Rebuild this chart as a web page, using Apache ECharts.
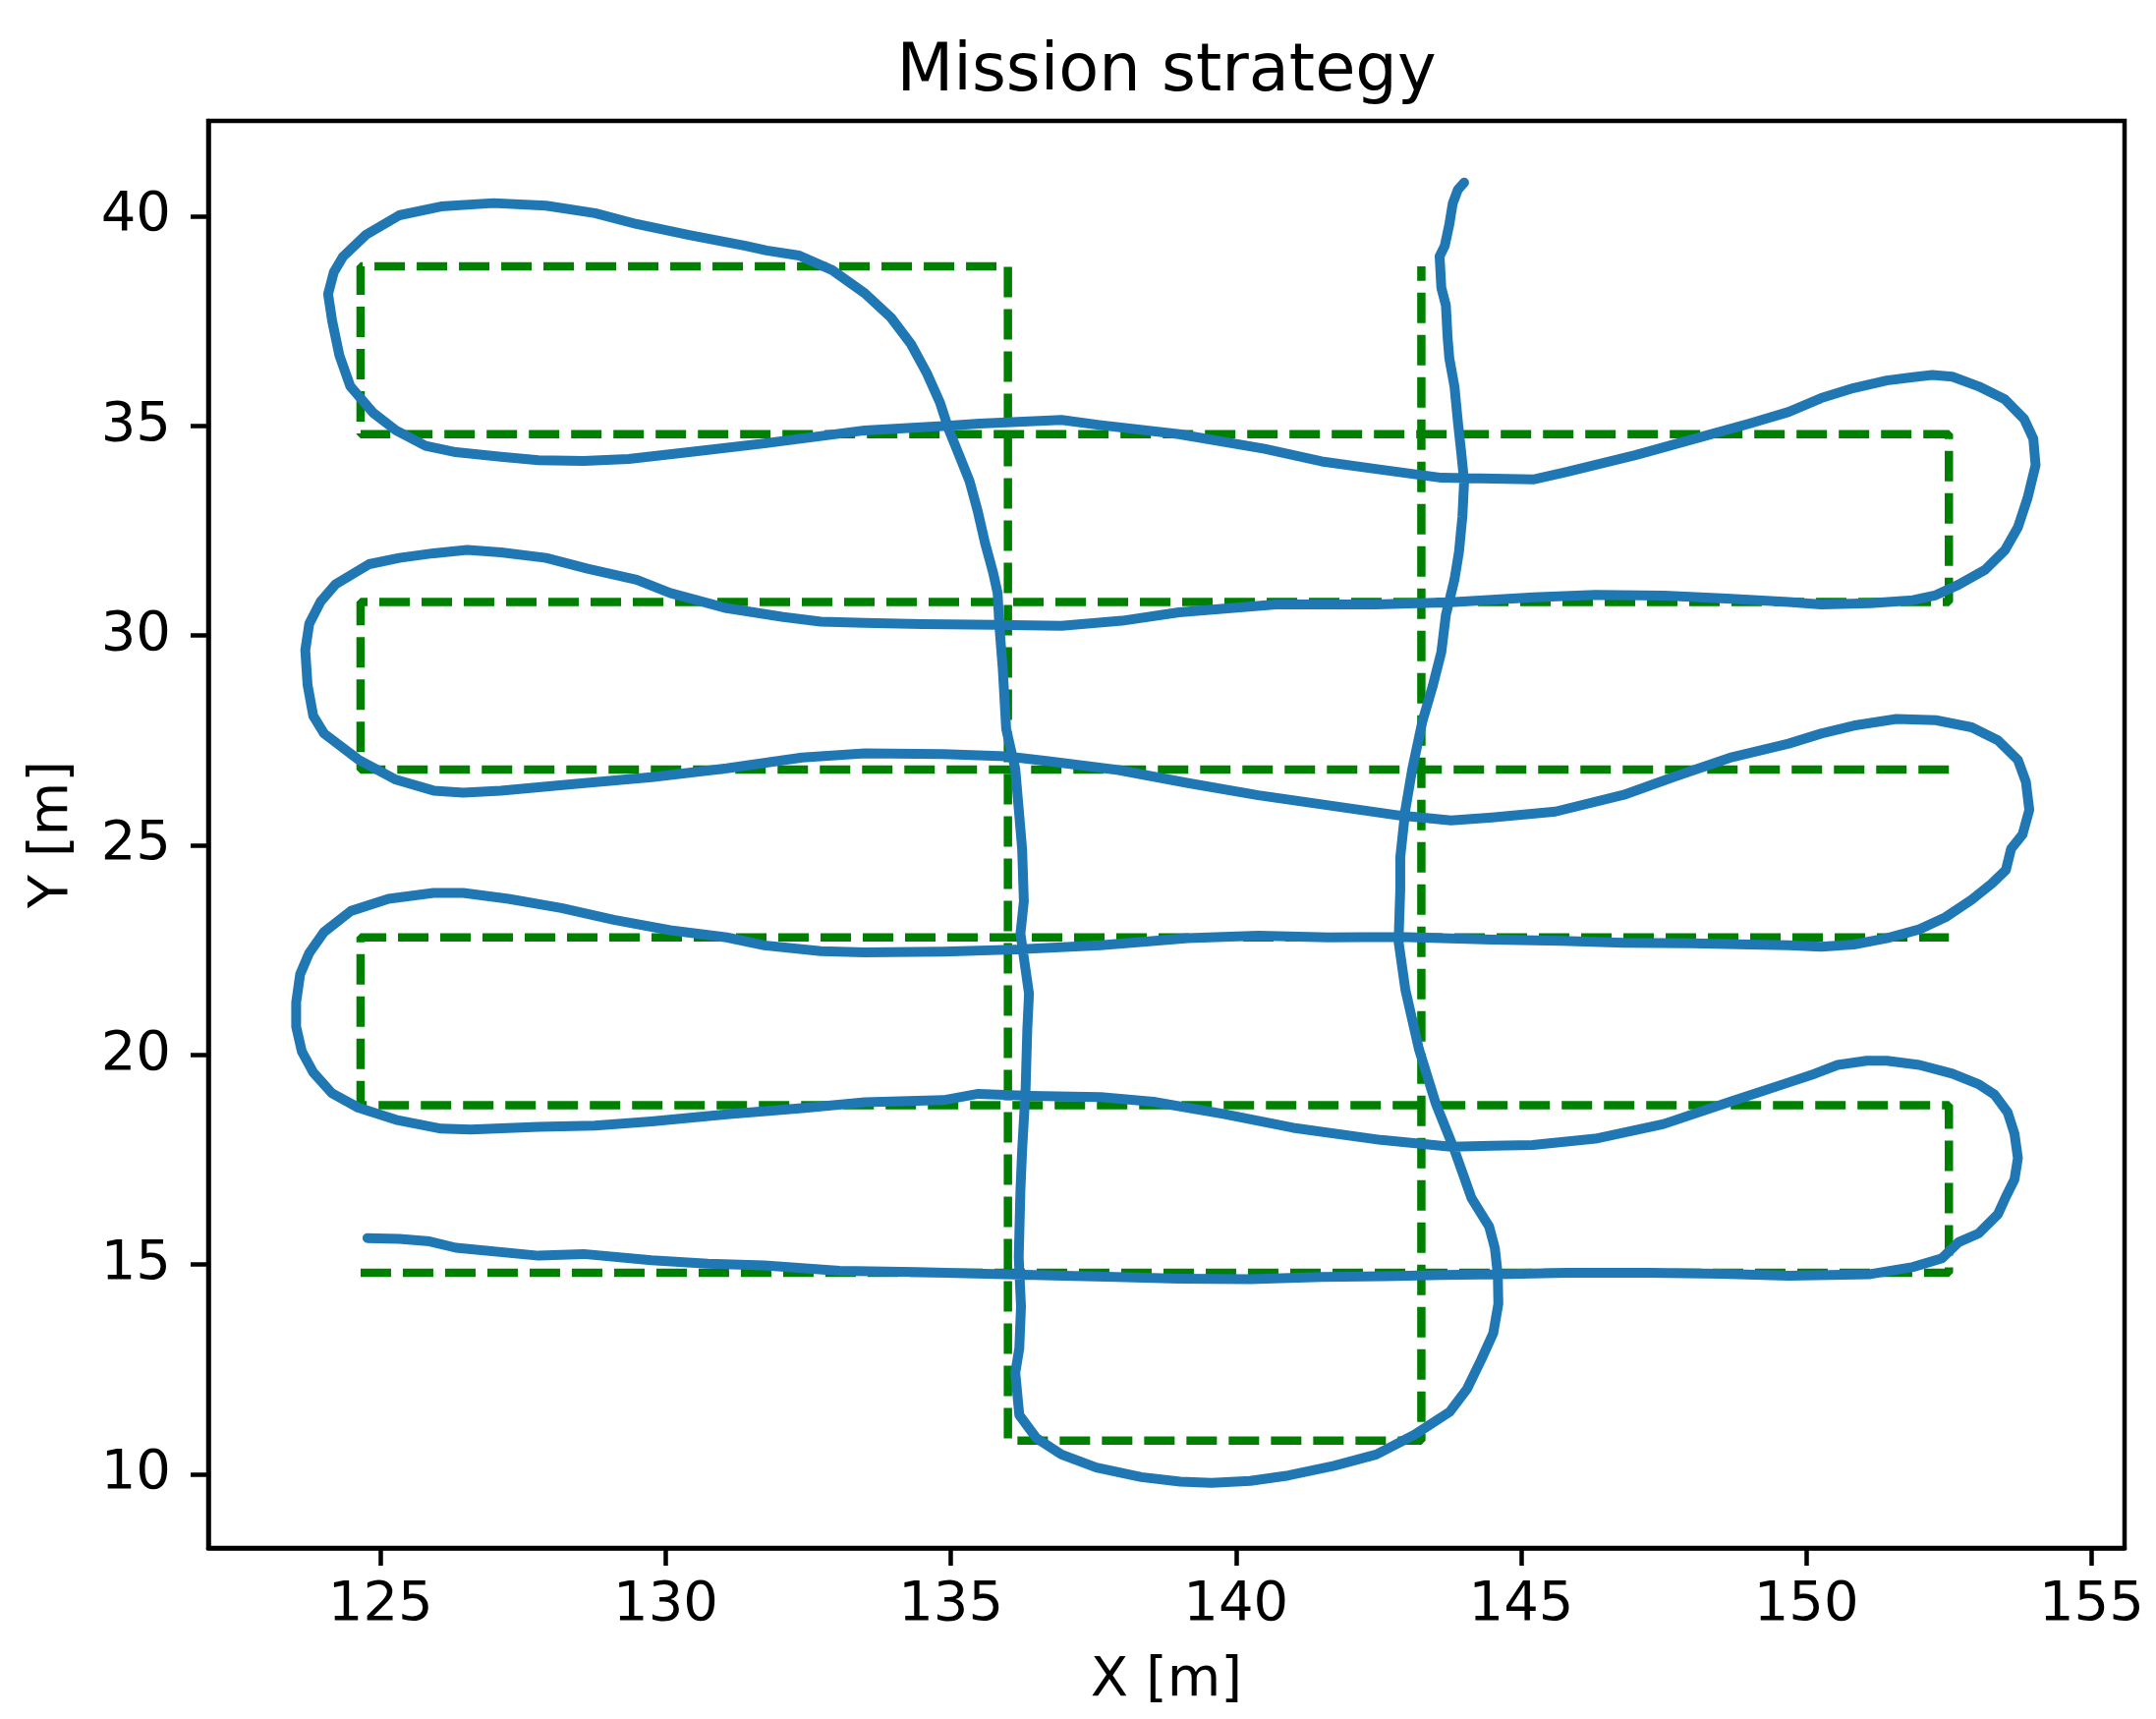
<!DOCTYPE html>
<html>
<head>
<meta charset="utf-8">
<title>Mission strategy</title>
<script src="https://cdn.jsdelivr.net/npm/echarts@6/dist/echarts.min.js"></script>
<style>
  html, body { margin: 0; padding: 0; background: #fff; }
  #main { width: 2194px; height: 1749px; }
</style>
</head>
<body>
<div id="main"></div>
<script>
// axis ticks
const xTicks = [125, 130, 135, 140, 145, 150, 155]
const yTicks = [10, 15, 20, 25, 30, 35, 40]

// planned path (green dashed), there is a gap on the right between 22.8 and 26.8
const planPart1 = [[124.65, 14.8], [152.5, 14.8], [152.5, 18.8], [124.65, 18.8], [124.65, 22.8], [152.5, 22.8]]
const planPart2 = [[152.5, 26.8], [124.65, 26.8], [124.65, 30.8], [152.5, 30.8], [152.5, 34.8], [124.65, 34.8],
  [124.65, 38.8], [136.0, 38.8], [136.0, 10.8], [143.25, 10.8], [143.25, 38.8]]

// flown track (blue), one array per leg
const legBottom = [[124.77, 15.63], [125.33, 15.61], [125.86, 15.55], [126.32, 15.4], [127.77, 15.21], [128.56, 15.25],
  [129.75, 15.1], [130.74, 15.02], [131.73, 14.98], [133.05, 14.85], [134.4, 14.82], [135.6, 14.78], [136.8, 14.74],
  [137.9, 14.7], [139.0, 14.66], [140.25, 14.65], [141.5, 14.7], [142.6, 14.72], [143.6, 14.75], [144.6, 14.77],
  [145.8, 14.8], [147.25, 14.8], [148.5, 14.78], [149.69, 14.73], [151.12, 14.77], [151.87, 14.94], [152.38, 15.15],
  [152.67, 15.53], [153.02, 15.74], [153.36, 16.2], [153.5, 16.62], [153.65, 17.03], [153.71, 17.54], [153.65, 18.12],
  [153.53, 18.63], [153.3, 19.05], [153.02, 19.3], [152.56, 19.55], [151.98, 19.76], [151.41, 19.86], [151.06, 19.86],
  [150.55, 19.76], [150.15, 19.55], [149.69, 19.34]]
const leg18 = [[148.7, 18.9], [147.5, 18.35], [146.3, 18.0], [145.2, 17.85], [144.49, 17.83], [143.77, 17.81],
  [142.54, 17.97], [141.0, 18.26], [139.78, 18.59], [138.55, 18.88], [137.63, 18.99], [136.4, 19.02], [135.48, 19.07],
  [134.87, 18.92], [133.49, 18.87], [132.39, 18.73], [131.07, 18.58], [129.75, 18.41], [128.76, 18.31], [127.77, 18.28],
  [126.58, 18.22], [126.06, 18.24], [125.27, 18.45], [124.61, 18.74], [124.15, 19.08], [123.82, 19.58], [123.62, 20.08],
  [123.52, 20.67], [123.52, 21.25], [123.59, 21.92], [123.75, 22.43], [124.01, 22.93], [124.48, 23.43], [125.14, 23.72],
  [125.93, 23.86], [126.45, 23.86], [127.24, 23.72], [128.17, 23.5], [129.09, 23.22], [130.08, 22.97], [131.07, 22.8],
  [131.73, 22.61], [132.72, 22.47], [133.49, 22.44]]
const leg22 = [[134.87, 22.46], [136.1, 22.51], [137.63, 22.61], [139.16, 22.78], [140.39, 22.84], [141.62, 22.8],
  [142.85, 22.81], [144.49, 22.75], [145.7, 22.72], [146.8, 22.67], [148.0, 22.66], [149.0, 22.63], [149.69, 22.61],
  [150.26, 22.58], [150.83, 22.63], [151.41, 22.78], [151.98, 22.99], [152.44, 23.28], [152.9, 23.7], [153.25, 24.08],
  [153.5, 24.41], [153.59, 24.91], [153.79, 25.25], [153.91, 25.84], [153.85, 26.51], [153.71, 27.03], [153.36, 27.5],
  [152.9, 27.81], [152.27, 27.98], [151.58, 28.01], [150.83, 27.85], [150.26, 27.66], [149.69, 27.42]]
const leg26 = [[148.7, 27.1], [147.7, 26.64], [146.8, 26.2], [145.6, 25.8], [144.49, 25.66], [143.77, 25.59],
  [142.85, 25.71], [141.62, 25.95], [140.39, 26.19], [139.16, 26.48], [137.94, 26.79], [136.71, 27.0], [135.97, 27.12],
  [134.87, 27.17], [133.49, 27.19], [132.39, 27.09], [131.07, 26.83], [129.75, 26.62], [128.43, 26.46], [127.11, 26.3],
  [126.45, 26.25], [125.93, 26.3], [125.27, 26.56], [124.61, 27.04], [124.01, 27.66], [123.82, 28.08], [123.72, 28.82],
  [123.68, 29.65], [123.75, 30.28], [123.95, 30.81], [124.21, 31.22], [124.8, 31.7], [125.33, 31.85], [125.93, 31.96],
  [126.52, 32.04], [127.11, 31.98], [127.9, 31.85], [128.63, 31.59], [129.49, 31.33], [130.08, 31.01], [131.07, 30.65],
  [132.06, 30.44], [132.72, 30.33], [133.49, 30.3]]
const leg30 = [[134.5, 30.27], [135.79, 30.25], [136.94, 30.23], [138.0, 30.35], [139.0, 30.55], [140.7, 30.74],
  [142.45, 30.74], [143.77, 30.79], [145.21, 30.91], [146.3, 30.97], [147.5, 30.95], [148.6, 30.88], [149.69, 30.8],
  [150.26, 30.74], [151.12, 30.77], [151.87, 30.84], [152.27, 30.96], [152.67, 31.21], [153.13, 31.56], [153.48, 32.03],
  [153.71, 32.58], [153.88, 33.28], [154.02, 34.06], [153.98, 34.69], [153.82, 35.16], [153.48, 35.63], [153.02, 35.94],
  [152.56, 36.17], [152.21, 36.21], [151.87, 36.16], [151.41, 36.08], [150.83, 35.9], [150.26, 35.66], [149.69, 35.33]]
const leg34 = [[149.0, 35.05], [148.2, 34.75], [147.0, 34.3], [145.8, 33.9], [145.21, 33.72], [143.6, 33.76],
  [142.45, 33.97], [141.5, 34.15], [140.5, 34.45], [139.0, 34.8], [137.6, 35.02], [136.94, 35.14], [135.5, 35.05],
  [134.93, 35.0], [133.49, 34.89], [131.73, 34.58], [130.41, 34.37], [129.35, 34.21], [128.56, 34.16], [127.77, 34.18],
  [127.11, 34.26], [126.32, 34.37], [125.79, 34.52], [125.27, 34.89], [124.87, 35.31], [124.47, 35.94], [124.28, 36.67],
  [124.15, 37.51], [124.08, 38.14], [124.18, 38.66], [124.34, 39.03], [124.74, 39.55], [125.33, 40.02], [126.06, 40.23],
  [126.98, 40.31], [127.9, 40.25], [128.76, 40.07], [129.49, 39.81], [130.41, 39.55], [131.4, 39.29], [131.77, 39.18],
  [132.34, 39.06], [132.92, 38.71], [133.49, 38.16], [133.95, 37.58], [134.3, 36.95], [134.58, 36.25], [134.81, 35.55],
  [134.96, 34.92], [135.1, 34.45], [135.33, 33.67], [135.47, 32.97], [135.6, 32.2], [135.74, 31.5], [135.82, 31.01],
  [135.85, 30.23]]
const legDown = [[135.91, 29.2], [135.97, 27.77], [136.13, 26.81], [136.19, 25.86], [136.25, 24.9], [136.28, 23.66],
  [136.22, 22.89], [136.31, 22.03], [136.37, 21.46], [136.34, 20.6], [136.31, 19.16], [136.25, 17.73], [136.22, 16.77],
  [136.19, 15.17], [136.23, 14.0], [136.2, 13.0], [136.13, 12.42], [136.2, 11.41], [136.5, 10.86], [136.94, 10.47],
  [137.55, 10.16], [138.34, 9.93], [139.02, 9.82], [139.57, 9.79], [140.25, 9.84], [140.92, 9.97], [141.72, 10.2],
  [142.46, 10.47], [143.13, 10.94], [143.75, 11.49], [144.05, 12.03], [144.3, 12.73], [144.51, 13.36], [144.6, 14.06],
  [144.59, 14.76], [144.54, 15.38], [144.44, 15.9]]
const legUp = [[144.13, 16.58], [143.83, 17.73], [143.5, 18.85], [143.21, 20.12], [142.97, 21.55], [142.85, 22.7],
  [142.88, 23.94], [142.88, 24.71], [142.97, 25.85], [143.09, 26.81], [143.27, 27.96], [143.45, 28.8], [143.6, 29.6],
  [143.68, 30.49], [143.83, 31.33], [143.91, 32.0], [143.97, 32.84], [144.0, 33.68], [143.95, 34.35], [143.89, 35.1],
  [143.83, 35.94], [143.74, 36.61], [143.71, 37.11], [143.68, 37.87], [143.6, 38.29], [143.57, 39.04], [143.66, 39.29],
  [143.74, 39.8], [143.8, 40.3], [143.89, 40.63], [144.0, 40.8]]

const track = [].concat(legBottom, leg18, leg22, leg26, leg30, leg34, legDown, legUp)

const font = '"DejaVu Sans", sans-serif'
const black = { color: '#000', width: 4.5 }
const planStyle = { color: '#008000', width: 8.5, type: [31, 12], cap: 'butt' }

let myChart = echarts.init(document.getElementById('main'))

let option = {
  animation: false,
  backgroundColor: '#fff',
  graphic: [
    {
      type: 'text',
      x: 1187,
      y: 75,
      style: {
        text: 'Mission strategy',
        fontSize: 67,
        fontFamily: font,
        fill: '#000',
        align: 'center',
        textAlign: 'center',
        verticalAlign: 'middle',
        textVerticalAlign: 'middle'
      }
    }
  ],
  grid: {
    left: 212,
    right: 32,
    top: 123,
    bottom: 174,
    containLabel: false,
    outerBoundsMode: 'none',
    show: true,
    borderColor: '#000',
    borderWidth: 4.5
  },
  xAxis: {
    type: 'value',
    min: 121.98,
    max: 155.58,
    name: 'X [m]',
    nameLocation: 'middle',
    nameGap: 107,
    nameTextStyle: { fontSize: 56, fontFamily: font, color: '#000' },
    axisLine: { show: true, onZero: false, lineStyle: black },
    axisTick: { show: true, inside: false, length: 18, customValues: xTicks, lineStyle: black },
    axisLabel: { customValues: xTicks, fontSize: 56, fontFamily: font, color: '#000', margin: 30 },
    splitLine: { show: false }
  },
  yAxis: {
    type: 'value',
    min: 8.24,
    max: 42.27,
    name: 'Y [m]',
    nameLocation: 'middle',
    nameGap: 131,
    nameTextStyle: { fontSize: 56, fontFamily: font, color: '#000' },
    axisLine: { show: true, onZero: false, lineStyle: black },
    axisTick: { show: true, inside: false, length: 18, customValues: yTicks, lineStyle: black },
    axisLabel: { customValues: yTicks, fontSize: 56, fontFamily: font, color: '#000', margin: 38 },
    splitLine: { show: false }
  },
  series: [
    {
      name: 'plan',
      type: 'line',
      data: planPart1,
      symbol: 'none',
      silent: true,
      lineStyle: planStyle
    },
    {
      name: 'plan2',
      type: 'line',
      data: planPart2,
      symbol: 'none',
      silent: true,
      lineStyle: planStyle
    },
    {
      name: 'track',
      type: 'line',
      data: track,
      symbol: 'none',
      silent: true,
      lineStyle: { color: '#1f77b4', width: 10, cap: 'round', join: 'round' }
    }
  ]
}

myChart.setOption(option)
</script>
</body>
</html>
